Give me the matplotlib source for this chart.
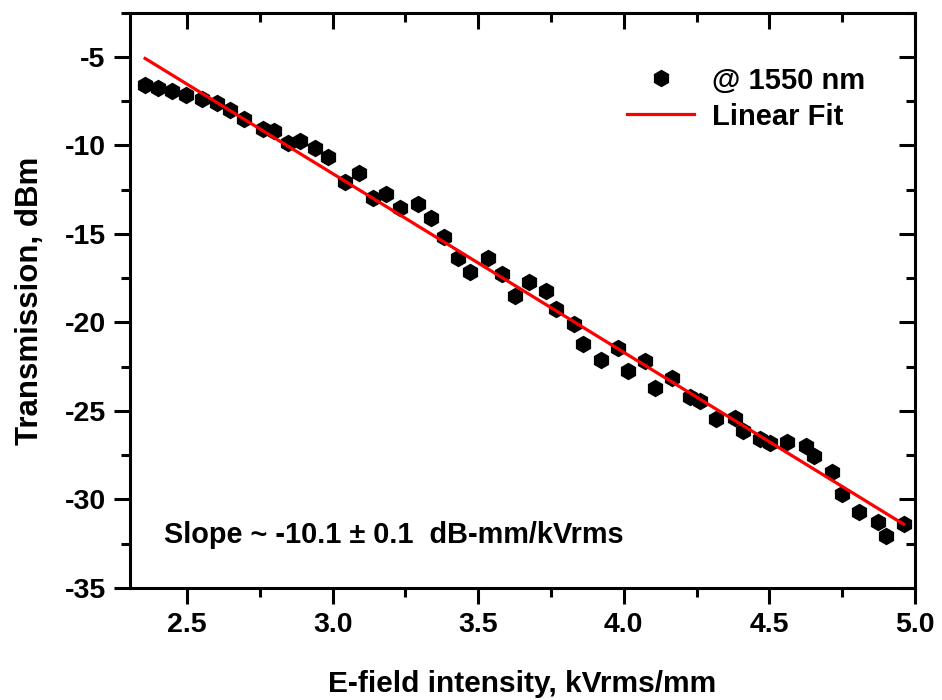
import numpy as np
import matplotlib
matplotlib.use("Agg")
import matplotlib.pyplot as plt
from matplotlib.ticker import MultipleLocator

# measured transmission at 1550 nm
field_kv = [2.356, 2.401, 2.449, 2.496, 2.551, 2.602, 2.646, 2.694, 2.762, 2.799,
            2.846, 2.889, 2.938, 2.984, 3.043, 3.091, 3.137, 3.183, 3.230, 3.293,
            3.338, 3.381, 3.430, 3.473, 3.534, 3.582, 3.626, 3.676, 3.733, 3.768,
            3.828, 3.859, 3.920, 3.980, 4.014, 4.073, 4.107, 4.167, 4.226, 4.261,
            4.318, 4.382, 4.410, 4.467, 4.502, 4.562, 4.625, 4.654, 4.715, 4.748,
            4.808, 4.872, 4.900, 4.961]
transmission_dbm = [-6.60, -6.75, -6.94, -7.16, -7.35, -7.63, -7.97, -8.48, -9.08, -9.20,
                    -9.89, -9.76, -10.17, -10.65, -12.06, -11.55, -12.96, -12.77, -13.54, -13.32,
                    -14.12, -15.20, -16.35, -17.14, -16.38, -17.29, -18.50, -17.70, -18.23, -19.25,
                    -20.11, -21.24, -22.13, -21.43, -22.75, -22.18, -23.69, -23.16, -24.20, -24.44,
                    -25.47, -25.42, -26.13, -26.59, -26.80, -26.74, -26.97, -27.53, -28.47, -29.69,
                    -30.69, -31.29, -32.05, -31.39]

# linear fit parameters
fit_slope = -10.1
fit_intercept = 18.71

plt.rcParams['font.family'] = ['Liberation Sans', 'DejaVu Sans']
plt.rcParams['font.weight'] = 'bold'
plt.rcParams['axes.unicode_minus'] = False

fig = plt.figure(figsize=(9.42, 7.0), dpi=100)
ax = fig.add_axes([0.138, 0.16, 0.9713 - 0.138, 0.9819 - 0.16])

x = np.array(field_kv)
y = np.array(transmission_dbm)
ax.plot(x, y, linestyle='none', marker='h', markersize=11.5, color='black',
        label='@ 1550 nm', zorder=2)

xfit = np.array([x.min(), x.max()])
ax.plot(xfit, fit_slope * xfit + fit_intercept, color='red', lw=2.3, label='Linear Fit', zorder=3)

ax.set_xlim(2.304, 5.0)
ax.set_ylim(-35, -2.5)

ax.xaxis.set_major_locator(MultipleLocator(0.5))
ax.xaxis.set_minor_locator(MultipleLocator(0.25))
ax.yaxis.set_major_locator(MultipleLocator(5))
ax.yaxis.set_minor_locator(MultipleLocator(2.5))

for s in ax.spines.values():
    s.set_linewidth(2.2)

ax.tick_params(which='both', direction='out', width=2.2, labelsize=20.5, top=False, right=False)
ax.tick_params(which='major', length=11.5, pad=6)
ax.tick_params(which='minor', length=6.5)

# inward ticks on the top and right spines
axt = ax.secondary_xaxis('top')
axt.xaxis.set_major_locator(MultipleLocator(0.5))
axt.xaxis.set_minor_locator(MultipleLocator(0.25))
axt.tick_params(which='both', direction='in', width=2.2, labeltop=False)
axt.tick_params(which='major', length=11.5)
axt.tick_params(which='minor', length=6.5)
axr = ax.secondary_yaxis('right')
axr.yaxis.set_major_locator(MultipleLocator(5))
axr.yaxis.set_minor_locator(MultipleLocator(2.5))
axr.tick_params(which='both', direction='in', width=2.2, labelright=False)
axr.tick_params(which='major', length=11.5)
axr.tick_params(which='minor', length=6.5)

ax.set_xlabel('E-field intensity, kVrms/mm', fontsize=21.5, fontweight='bold', labelpad=23)
ax.set_ylabel('Transmission, dBm', fontsize=22.5, fontweight='bold', labelpad=14)

ax.text(2.42, -32, 'Slope ~ -10.1 \u00b1 0.1  dB-mm/kVrms', fontsize=20.8,
        fontweight='bold', ha='left', va='center')

ax.legend(loc='upper left', bbox_to_anchor=(0.60, 0.952), frameon=False, fontsize=21,
          handlelength=2.3, handletextpad=0.6, labelspacing=0.28)

fig.savefig('out.png', dpi=100)
